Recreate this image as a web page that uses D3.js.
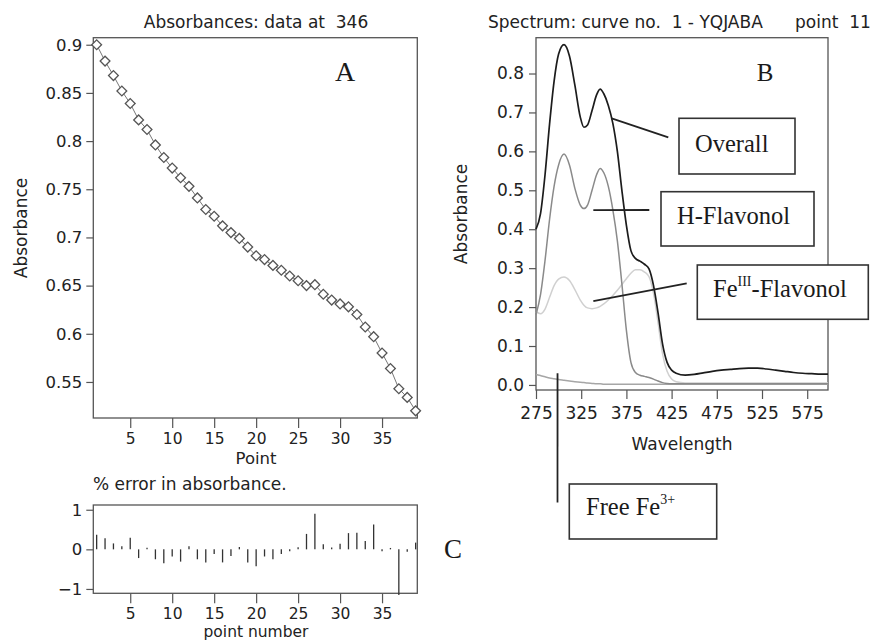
<!DOCTYPE html>
<html>
<head>
<meta charset="utf-8">
<script src="https://cdn.jsdelivr.net/npm/d3@7"></script>
<style>
  body { margin: 0; background: #fff; }
  svg { display: block; }
  text { font-family: "DejaVu Sans", sans-serif; fill: #222; }
  .serif { font-family: "Liberation Serif", "Times New Roman", serif; fill: #1a1a1a; }
  .tick line { stroke: #555; }
</style>
</head>
<body>
<svg id="chart" width="880" height="641"></svg>
<script>
// ---- data ----
const pointNo = [1,2,3,4,5,6,7,8,9,10,11,12,13,14,15,16,17,18,19,20,
                 21,22,23,24,25,26,27,28,29,30,31,32,33,34,35,36,37,38,39];

// absorbance at 346 nm for each point
const absorb346 = [0.900,0.883,0.868,0.852,0.839,0.822,0.812,0.796,0.783,0.772,
                   0.762,0.753,0.741,0.729,0.722,0.712,0.705,0.699,0.690,0.681,
                   0.677,0.671,0.666,0.660,0.655,0.650,0.651,0.641,0.635,0.631,
                   0.628,0.620,0.607,0.597,0.580,0.564,0.543,0.534,0.520];

// % error in absorbance
const errorPct = [0.37,0.28,0.15,0.08,0.29,-0.22,0.04,-0.25,-0.35,-0.18,
                  -0.31,0.08,-0.25,-0.33,-0.12,-0.33,-0.17,0.06,-0.33,-0.43,
                  -0.18,-0.25,-0.12,-0.02,0.05,0.39,0.90,0.13,0.02,0.14,
                  0.41,0.42,0.21,0.63,-0.02,0.01,-1.15,-0.06,0.17];

// spectra
const wavelength = [275,280,285,290,295,300,306,312,318,324,328,332,337,342,346,350,
                    355,360,365,370,375,380,385,390,395,400,405,410,415,420,425,430,
                    440,450,460,470,480,490,500,510,520,530,540,550,560,570,580,590,598];

const overall = [0.400,0.440,0.540,0.670,0.780,0.850,0.874,0.845,0.770,0.688,0.662,0.668,0.705,0.745,0.760,0.748,
                 0.718,0.672,0.600,0.500,0.410,0.345,0.325,0.318,0.310,0.298,0.255,0.185,0.105,0.058,0.038,0.030,
                 0.025,0.027,0.031,0.035,0.038,0.040,0.042,0.043,0.043,0.041,0.038,0.035,0.032,0.030,0.029,0.028,0.028];

const hFlavonol = [0.180,0.232,0.320,0.425,0.510,0.565,0.593,0.565,0.505,0.462,0.453,0.462,0.500,0.540,0.556,0.545,
                   0.510,0.450,0.370,0.260,0.140,0.058,0.032,0.025,0.022,0.019,0.015,0.010,0.006,0.004,0.003,0.003,
                   0.003,0.003,0.003,0.003,0.003,0.003,0.003,0.003,0.003,0.003,0.003,0.003,0.003,0.003,0.003,0.003,0.003];

const feFlavonol = [0.188,0.183,0.195,0.225,0.255,0.272,0.277,0.268,0.245,0.218,0.205,0.198,0.196,0.198,0.202,0.208,
                    0.218,0.230,0.243,0.258,0.273,0.287,0.296,0.296,0.290,0.278,0.235,0.160,0.080,0.035,0.015,0.008,
                    0.005,0.005,0.005,0.005,0.005,0.005,0.005,0.005,0.005,0.005,0.005,0.005,0.005,0.005,0.005,0.005,0.005];

const freeFe = [0.027,0.024,0.021,0.018,0.016,0.014,0.012,0.010,0.008,0.007,0.006,0.005,0.004,0.003,0.003,0.002,
                0.002,0.002,0.002,0.002,0.002,0.002,0.002,0.002,0.002,0.002,0.002,0.002,0.002,0.002,0.002,0.002,
                0.002,0.002,0.002,0.002,0.002,0.002,0.002,0.002,0.002,0.002,0.002,0.002,0.002,0.002,0.002,0.002,0.002];

const pointTicks = [5,10,15,20,25,30,35];
const absTicksA = [0.55,0.6,0.65,0.7,0.75,0.8,0.85,0.9];
const absTicksB = [0,0.1,0.2,0.3,0.4,0.5,0.6,0.7,0.8];
const waveTicks = [275,325,375,425,475,525,575];
const errTicks = [-1,0,1];

const seriesNames = ['Free Fe', 'FeIII-Flavonol', 'H-Flavonol', 'Overall'];
const seriesValues = [freeFe, feFlavonol, hFlavonol, overall];
const seriesColor = ['#a6a6a6', '#d0d0d0', '#8a8a8a', '#1c1c1c'];

const svg = d3.select('#chart');

// ---- helpers ----
function frame(x, y) {
  svg.append('rect')
    .attr('x', x.range()[0]).attr('y', y.range()[1])
    .attr('width', x.range()[1] - x.range()[0])
    .attr('height', y.range()[0] - y.range()[1])
    .attr('fill', 'none').attr('stroke', '#555').attr('stroke-width', 1.3);
}
function styleAxis(g, size) {
  g.select('.domain').remove();
  g.selectAll('text').attr('font-size', size).attr('fill', '#222');
  g.selectAll('line').attr('stroke', '#555').attr('stroke-width', 1.2);
}

// ================= Panel A =================
const xA = d3.scaleLinear().domain([0.6, 39.2]).range([93.3, 417.3]);
const yA = d3.scaleLinear().domain([0.5126, 0.9073]).range([418, 37.7]);

svg.append('g')
  .attr('transform', `translate(${xA.range()[0]},0)`)
  .call(d3.axisLeft(yA).tickValues(absTicksA).tickFormat(d => String(d)).tickSize(7).tickPadding(4))
  .call(g => styleAxis(g, 16.5));
svg.append('g')
  .attr('transform', `translate(0,${yA.range()[0]})`)
  .call(d3.axisBottom(xA).tickValues(pointTicks).tickSize(10).tickPadding(5))
  .call(g => styleAxis(g, 15.5));
frame(xA, yA);

const pointsA = pointNo.map((p, i) => ({ p, v: absorb346[i] }));
svg.append('path')
  .datum(pointsA)
  .attr('fill', 'none').attr('stroke', '#777').attr('stroke-width', 1)
  .attr('d', d3.line().x(d => xA(d.p)).y(d => yA(d.v)));
svg.append('g').selectAll('path')
  .data(pointsA)
  .join('path')
  .attr('transform', d => `translate(${xA(d.p)},${yA(d.v)}) rotate(45)`)
  .attr('d', d3.symbol(d3.symbolSquare, 48))
  .attr('fill', '#fff').attr('stroke', '#555').attr('stroke-width', 1.3);

svg.append('text').attr('x', 256).attr('y', 28).attr('text-anchor', 'middle')
  .attr('font-size', 17).style('white-space', 'pre').text('Absorbances: data at  346');
svg.append('text').attr('x', 256).attr('y', 464).attr('text-anchor', 'middle')
  .attr('font-size', 16.5).text('Point');
svg.append('text').attr('transform', 'translate(27,228) rotate(-90)').attr('text-anchor', 'middle')
  .attr('font-size', 17).text('Absorbance');
svg.append('text').attr('class', 'serif').attr('x', 345).attr('y', 81)
  .attr('text-anchor', 'middle').attr('font-size', 28).text('A');

// ================= Panel C =================
const xC = d3.scaleLinear().domain([0.6, 39.2]).range([93.3, 417.3]);
const yC = d3.scaleLinear().domain([-1.11, 1.12]).range([593.3, 505]);

svg.append('g')
  .attr('transform', `translate(${xC.range()[0]},0)`)
  .call(d3.axisLeft(yC).tickValues(errTicks).tickFormat(d3.format('d')).tickSize(7).tickPadding(4))
  .call(g => styleAxis(g, 16.5));
svg.append('g')
  .attr('transform', `translate(0,${yC.range()[0]})`)
  .call(d3.axisBottom(xC).tickValues(pointTicks).tickSize(10).tickPadding(5))
  .call(g => styleAxis(g, 15.5));
frame(xC, yC);

svg.append('g').selectAll('line')
  .data(pointNo.map((p, i) => ({ p, v: errorPct[i] })))
  .join('line')
  .attr('x1', d => xC(d.p)).attr('x2', d => xC(d.p))
  .attr('y1', yC(0)).attr('y2', d => yC(d.v) + (Math.abs(d.v) < 0.03 ? (d.v < 0 ? 1 : -1) : 0))
  .attr('stroke', '#333').attr('stroke-width', 1.3);

svg.append('text').attr('x', 93).attr('y', 490)
  .attr('font-size', 17).text('% error in absorbance.');
svg.append('text').attr('x', 256).attr('y', 637).attr('text-anchor', 'middle')
  .attr('font-size', 15.5).text('point number');
svg.append('text').attr('class', 'serif').attr('x', 453).attr('y', 558)
  .attr('text-anchor', 'middle').attr('font-size', 27).text('C');

// ================= Panel B =================
const xB = d3.scaleLinear().domain([275, 598]).range([536, 828]);
const yB = d3.scaleLinear().domain([-0.013, 0.892]).range([390, 37.7]);

svg.append('g')
  .attr('transform', `translate(${xB.range()[0]},0)`)
  .call(d3.axisLeft(yB).tickValues(absTicksB).tickFormat(d3.format('.1f')).tickSize(7).tickPadding(5))
  .call(g => styleAxis(g, 17));
svg.append('g')
  .attr('transform', `translate(0,${yB.range()[0]})`)
  .call(d3.axisBottom(xB).tickValues(waveTicks).tickSize(9).tickPadding(8))
  .call(g => styleAxis(g, 17));
frame(xB, yB);

const lineB = d3.line().curve(d3.curveMonotoneX)
  .x((d, i) => xB(wavelength[i])).y(d => yB(d));
svg.append('g').selectAll('path')
  .data(seriesValues)
  .join('path')
  .attr('d', d => lineB(d))
  .attr('fill', 'none')
  .attr('stroke', (d, i) => seriesColor[i])
  .attr('stroke-width', (d, i) => i === 3 ? 1.7 : 1.5);

svg.append('text').attr('x', 488).attr('y', 28).attr('font-size', 17)
  .style('white-space', 'pre').text('Spectrum: curve no.  1 - YQJABA');
svg.append('text').attr('x', 795).attr('y', 28).attr('font-size', 17)
  .style('white-space', 'pre').text('point  11');
svg.append('text').attr('x', xB.range()[0] + (xB.range()[1] - xB.range()[0]) / 2).attr('y', 450)
  .attr('text-anchor', 'middle').attr('font-size', 17).text('Wavelength');
svg.append('text').attr('transform', 'translate(467,214) rotate(-90)').attr('text-anchor', 'middle')
  .attr('font-size', 17).text('Absorbance');
svg.append('text').attr('class', 'serif').attr('x', 765).attr('y', 81)
  .attr('text-anchor', 'middle').attr('font-size', 25).text('B');

// ---- call-out boxes (anchor in data units, box in pixels) ----
const callouts = [
  { text: 'Overall', sup: '', after: '', anchor: [358.7, 0.6845], end: [668.3, 137.3], box: [679, 118.3, 116, 55.7], tx: 695, ty: 152 },
  { text: 'H-Flavonol', sup: '', after: '', anchor: [338.4, 0.449], end: [649.3, 210], box: [661, 191.7, 153, 54.3], tx: 677, ty: 223.5 },
  { text: 'Fe', sup: 'III', after: '-Flavonol', anchor: [338.4, 0.2156], end: [686.7, 283.3], box: [697.3, 265, 171, 54.3], tx: 713, ty: 297 },
  { text: 'Free Fe', sup: '3+', after: '', anchor: [298.8, 0.030], end: [557.5, 502.5], box: [569.3, 484, 147.4, 55], tx: 586, ty: 515 }
];

const co = svg.append('g');
callouts.forEach(c => {
  co.append('line')
    .attr('x1', xB(c.anchor[0])).attr('y1', yB(c.anchor[1]))
    .attr('x2', c.end[0]).attr('y2', c.end[1])
    .attr('stroke', '#222').attr('stroke-width', 1.8);
  co.append('rect')
    .attr('x', c.box[0]).attr('y', c.box[1]).attr('width', c.box[2]).attr('height', c.box[3])
    .attr('fill', '#fff').attr('stroke', '#333').attr('stroke-width', 1.6);
  const t = co.append('text').attr('class', 'serif')
    .attr('x', c.tx).attr('y', c.ty).attr('font-size', 24.5).text(c.text);
  if (c.sup) {
    t.append('tspan').attr('font-size', 14).attr('dy', -11).text(c.sup);
    if (c.after) t.append('tspan').attr('dy', 11).text(c.after);
  }
});
</script>
</body>
</html>
